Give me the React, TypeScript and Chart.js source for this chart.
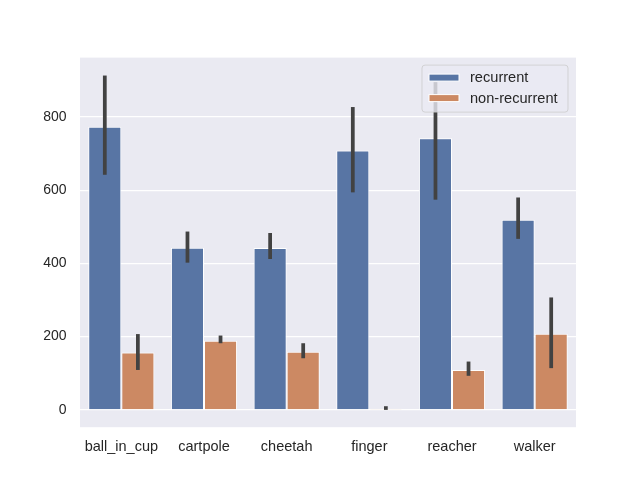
import React, { useEffect, useRef } from "react";
import { Chart, registerables } from "chart.js";

Chart.register(...registerables);

const categories = ["ball_in_cup", "cartpole", "cheetah", "finger", "reacher", "walker"];
const seriesNames = ["recurrent", "non-recurrent"];
const recurrent = [773, 443, 442, 708, 742, 519];
const recurrentLo = [642, 402, 412, 594, 574, 467];
const recurrentHi = [913, 487, 483, 827, 895, 580];
const nonRecurrent = [157, 189, 159, 3, 109, 208];
const nonRecurrentLo = [109, 182, 141, 0, 93, 114];
const nonRecurrentHi = [207, 203, 182, 10, 132, 307];
const yTicks = [0, 200, 400, 600, 800];

const colors = ["#5875A4", "#CC8963"];
const FONT = "'Liberation Sans', Arial, sans-serif";

export default function App() {
  const ref = useRef<HTMLCanvasElement>(null);
  useEffect(() => {
    if (!ref.current) return;
    const lows = [recurrentLo, nonRecurrentLo];
    const highs = [recurrentHi, nonRecurrentHi];

    const bgPlugin = {
      id: "bg",
      beforeDraw(chart: any) {
        const { ctx, chartArea } = chart;
        ctx.save();
        ctx.fillStyle = "#EAEAF2";
        ctx.fillRect(chartArea.left, chartArea.top, chartArea.right - chartArea.left, chartArea.bottom - chartArea.top);
        ctx.restore();
      },
    };

    const errPlugin = {
      id: "err",
      afterDatasetsDraw(chart: any) {
        const { ctx } = chart;
        const ys = chart.scales.y;
        ctx.save();
        ctx.strokeStyle = "#424242";
        ctx.lineWidth = 3.75;
        ctx.lineCap = "butt";
        for (let d = 0; d < 2; d++) {
          const meta = chart.getDatasetMeta(d);
          meta.data.forEach((el: any, j: number) => {
            ctx.beginPath();
            ctx.moveTo(el.x, ys.getPixelForValue(lows[d][j]));
            ctx.lineTo(el.x, ys.getPixelForValue(highs[d][j]));
            ctx.stroke();
          });
        }
        ctx.restore();
      },
    };

    const legendPlugin = {
      id: "customLegend",
      afterDraw(chart: any) {
        const { ctx, chartArea } = chart;
        const right = chartArea.right - 8;
        const left = right - 146;
        const top = chartArea.top + 7.5;
        const h = 47;
        ctx.save();
        ctx.globalAlpha = 0.8;
        ctx.fillStyle = "#EAEAF2";
        ctx.strokeStyle = "#CCCCCC";
        ctx.lineWidth = 1;
        ctx.beginPath();
        (ctx as any).roundRect(left, top, right - left, h, 3);
        ctx.fill();
        ctx.stroke();
        ctx.globalAlpha = 1;
        ctx.font = `14.6px ${FONT}`;
        ctx.textBaseline = "middle";
        ctx.textAlign = "left";
        seriesNames.forEach((name, i) => {
          const cy = top + 12.5 + i * 20.5;
          ctx.fillStyle = colors[i];
          ctx.fillRect(left + 7, cy - 3.5, 30, 7);
          ctx.strokeStyle = "#FFFFFF";
          ctx.strokeRect(left + 7, cy - 3.5, 30, 7);
          ctx.fillStyle = "#262626";
          ctx.fillText(name, left + 48, cy + 0.5);
        });
        ctx.restore();
      },
    };

    const chart = new Chart(ref.current, {
      type: "bar",
      data: {
        labels: categories,
        datasets: [
          { label: seriesNames[0], data: recurrent, backgroundColor: colors[0], borderColor: "#FFFFFF", borderWidth: 1 },
          { label: seriesNames[1], data: nonRecurrent, backgroundColor: colors[1], borderColor: "#FFFFFF", borderWidth: 1 },
        ],
      },
      options: {
        animation: false,
        responsive: false,
        devicePixelRatio: 1,
        layout: { padding: { left: 0, right: 64, top: 57.6, bottom: 0 } },
        datasets: { bar: { categoryPercentage: 0.8, barPercentage: 1.0 } },
        plugins: { legend: { display: false }, tooltip: { enabled: false }, title: { display: false } },
        scales: {
          x: {
            grid: { display: false, drawTicks: false },
            border: { display: false },
            ticks: { color: "#262626", font: { family: FONT, size: 14.5 }, padding: 11.5, maxRotation: 0 },
            afterFit(scale: any) { scale.height = 52.8; },
          },
          y: {
            min: -47.3,
            max: 962,
            grid: { color: "#FFFFFF", lineWidth: 1.2, drawTicks: false },
            border: { display: false },
            ticks: { color: "#262626", font: { family: FONT, size: 14 }, padding: 13.5 },
            afterBuildTicks(scale: any) { scale.ticks = yTicks.map((v) => ({ value: v })); },
            afterFit(scale: any) { scale.width = 80; },
          },
        },
      },
      plugins: [bgPlugin, errPlugin, legendPlugin],
    });
    return () => chart.destroy();
  }, []);
  return (
    <div style={{ position: "absolute", left: 0, top: 0, width: 640, height: 480, background: "#FFFFFF" }}>
      <canvas ref={ref} width={640} height={480} />
    </div>
  );
}
